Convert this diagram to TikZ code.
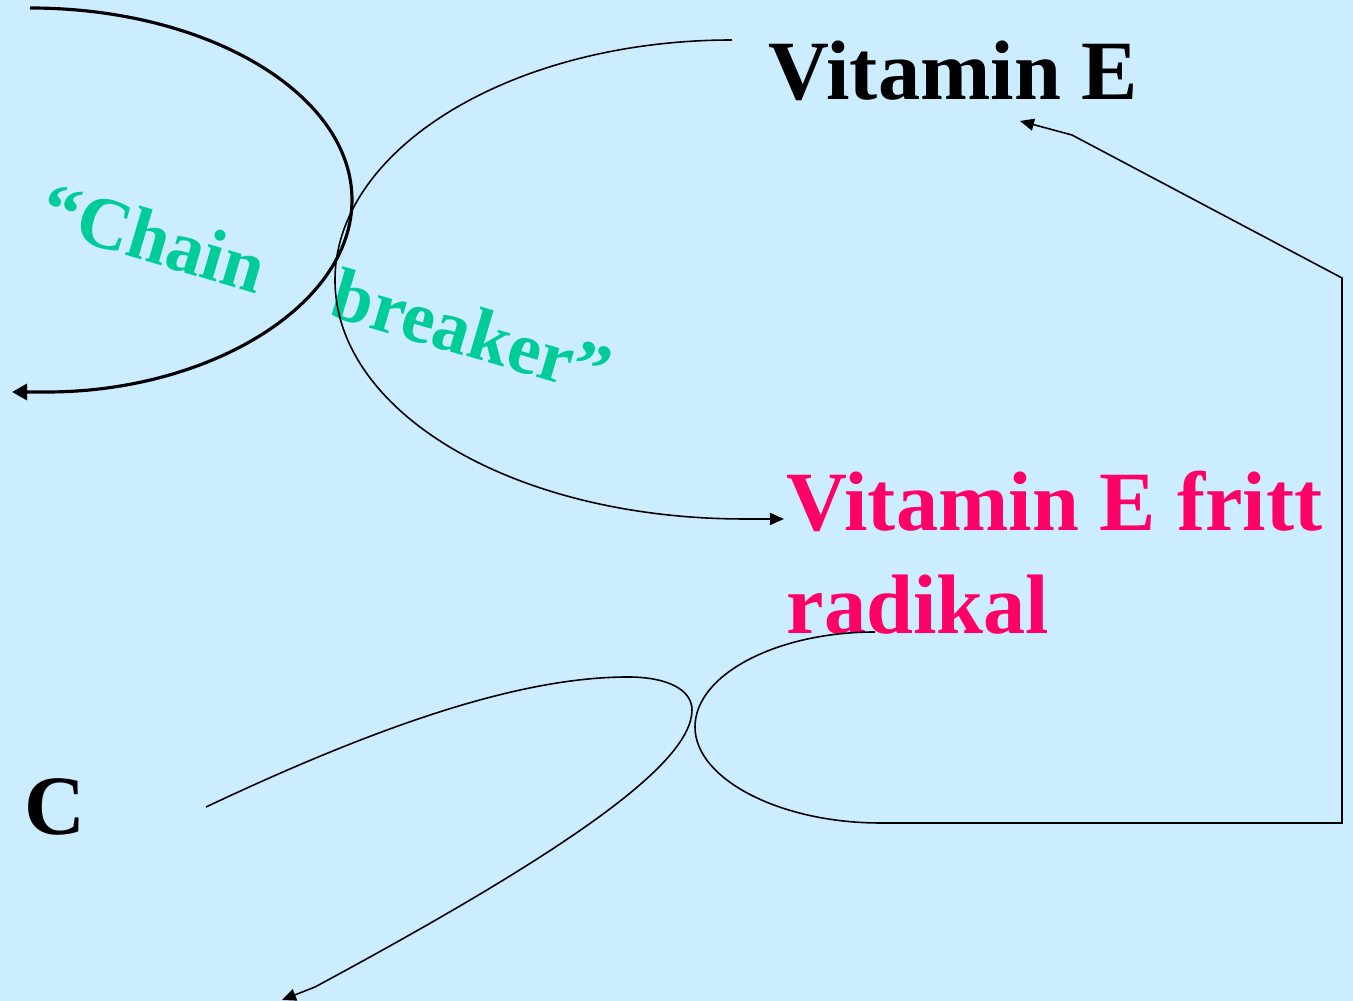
\documentclass[tikz,border=0pt]{standalone}
\usepackage{fontspec}
\setmainfont{Liberation Serif}
\usetikzlibrary{arrows.meta}
\definecolor{slidebg}{HTML}{CCECFF}
\definecolor{radpink}{HTML}{FF0066}
\definecolor{chaingreen}{HTML}{00CC99}
\tikzset{
	vlabel/.style={font=\fontsize{24pt}{29.5pt}\selectfont\bfseries, inner sep=0pt, anchor=base west},
	varr/.style={-{Triangle[length=1.4mm, width=1.2mm]}, line width=0.45pt, draw=black},
	vthick/.style={varr, line width=0.9pt, -{Triangle[length=1.5mm, width=1.6mm]}}
}

\begin{document}
\begin{tikzpicture}[x=0.01cm, y=-0.01cm]
	\fill[slidebg] (0,0) rectangle (1353,1001);
	\useasboundingbox (0,0) rectangle (1353,1001);
	% labels
	\node[vlabel] (vite) at (768,100) {Vitamin E};
	\node[vlabel, text=radpink, align=left] (rad) at (786,634) {Vitamin E fritt\\radikal};
	\node[vlabel] (vitc) at (24,835) {C};
	\node[vlabel, text=chaingreen, font=\fontsize{21pt}{26pt}\selectfont\bfseries, rotate=-16.5] (chain) at (36,229) {“Chain\hspace{1em}breaker”};
	% free ends
	\coordinate (c1s) at (30,8);
	\coordinate (c1e) at (12,392);
	\coordinate (c2s) at (732,40);
	\coordinate (c2e) at (784,519);
	\coordinate (c3s) at (875,632);
	\coordinate (c3e) at (1020,121);
	\coordinate (c4s) at (206,807);
	\coordinate (c4e) at (282,1000);
	% connectors
	\draw[vthick] (c1s) .. controls (208,8) and (352,94) .. (352,200) .. controls (352,306) and (208,392) .. (47,392) -- (c1e);
	\draw[varr] (c2s) .. controls (513,40) and (335,148) .. (335,280) .. controls (335,412) and (513,519) .. (745,519) -- (c2e);
	\draw[varr] (c3s) .. controls (776,632) and (695,675) .. (695,727) .. controls (695,779) and (780,823) .. (880,823) -- (1342,823) -- (1342,278) -- (1072,135) -- (c3e);
	\draw[varr] (c4s) .. controls (380,725) and (520,677) .. (628,677) .. controls (668,677) and (692,690) .. (692,710) .. controls (692,765) and (560,855) .. (315,987) -- (c4e);
\end{tikzpicture}
\end{document}
